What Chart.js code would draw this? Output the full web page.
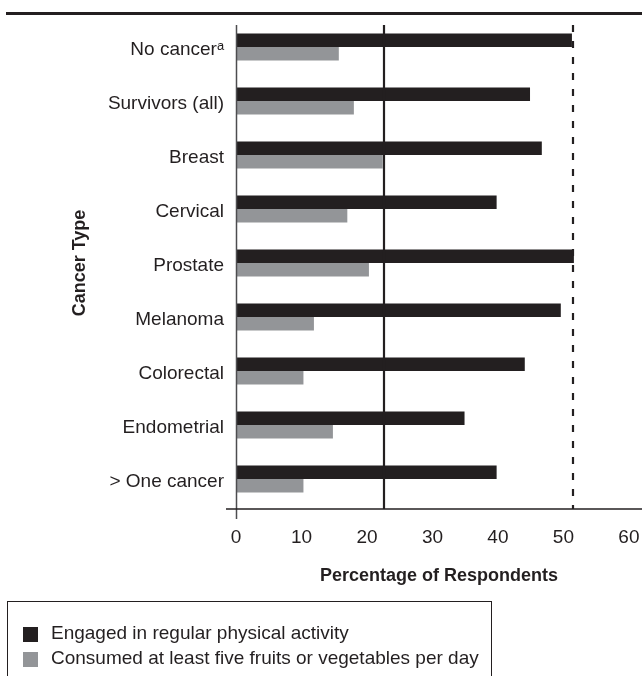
<!DOCTYPE html>
<html>
<head>
<meta charset="utf-8">
<script src="https://cdn.jsdelivr.net/npm/chart.js@4/dist/chart.umd.min.js"></script>
<style>
  html, body { margin: 0; padding: 0; background: #fff; }
  #wrap { position: relative; width: 642px; height: 676px; overflow: hidden; }
  canvas { position: absolute; left: 0; top: 0; }
  #legend {
    position: absolute; left: 7px; top: 601px; width: 485px; height: 100px;
    border: 1.5px solid #231f20; box-sizing: border-box;
    font-family: 'Liberation Sans', Arial, sans-serif;
    font-size: 19px; color: #231f20;
  }
  .item { position: absolute; left: 15px; height: 25px; display: flex; align-items: center; white-space: nowrap; }
  .sw { width: 15px; height: 15px; margin-right: 13px; flex: none; }
  .tx { position: relative; top: -2px; }
</style>
</head>
<body>
<div id="wrap">
  <canvas id="c" width="642" height="676"></canvas>
  <div id="legend"></div>
</div>
<script>
// ---- data ----
const categories = ['No cancer\u1d43', 'Survivors (all)', 'Breast', 'Cervical', 'Prostate', 'Melanoma', 'Colorectal', 'Endometrial', '> One cancer'];
const physicalActivity = [51.3, 44.9, 46.7, 39.8, 51.6, 49.6, 44.1, 34.9, 39.8];
const fruitsVegetables = [15.7, 18.0, 22.4, 17.0, 20.3, 11.9, 10.3, 14.8, 10.3];
const seriesNames = ['Engaged in regular physical activity', 'Consumed at least five fruits or vegetables per day'];
const xTicks = [0, 10, 20, 30, 40, 50, 60];
const refSolid = 22.6;
const refDashed = 51.4;

const FONT = "'Liberation Sans', Arial, sans-serif";
const INK = '#231f20';
const GRAY = '#939598';

const overlay = {
  id: 'overlay',
  afterDatasetsDraw(chart) {
    const { ctx, chartArea } = chart;
    const xs = chart.scales.x;
    ctx.save();
    // top rule
    ctx.fillStyle = INK;
    ctx.fillRect(6, 12, 636, 3);
    const top = chartArea.top + 5;
    const axisY = chartArea.bottom + 3;
    // reference lines
    ctx.strokeStyle = INK;
    ctx.lineWidth = 2.2;
    let x = Math.round(xs.getPixelForValue(refSolid));
    ctx.beginPath(); ctx.moveTo(x, top); ctx.lineTo(x, axisY); ctx.stroke();
    x = Math.round(xs.getPixelForValue(refDashed));
    ctx.setLineDash([7, 9]);
    ctx.beginPath(); ctx.moveTo(x, top); ctx.lineTo(x, axisY); ctx.stroke();
    ctx.setLineDash([]);
    // y axis
    const x0 = Math.round(xs.getPixelForValue(0)) + 0.5;
    ctx.strokeStyle = '#4d4d4f';
    ctx.lineWidth = 1.5;
    ctx.beginPath(); ctx.moveTo(x0, top); ctx.lineTo(x0, axisY + 10); ctx.stroke();
    // x axis
    ctx.strokeStyle = INK;
    ctx.lineWidth = 1.3;
    ctx.beginPath(); ctx.moveTo(226, axisY); ctx.lineTo(642, axisY); ctx.stroke();
    ctx.restore();
  }
};

const chart = new Chart(document.getElementById('c'), {
  type: 'bar',
  data: {
    labels: categories,
    datasets: [
      { label: seriesNames[0], data: physicalActivity, backgroundColor: INK },
      { label: seriesNames[1], data: fruitsVegetables, backgroundColor: GRAY }
    ]
  },
  options: {
    indexAxis: 'y',
    responsive: false,
    animation: false,
    devicePixelRatio: 1,
    datasets: { bar: { categoryPercentage: 0.5, barPercentage: 1.0, borderWidth: 0 } },
    layout: { padding: { top: 20, right: 0, left: 0, bottom: 0 } },
    plugins: { legend: { display: false }, tooltip: { enabled: false } },
    scales: {
      x: {
        type: 'linear', min: 0, max: 62,
        grid: { display: false, drawTicks: false },
        border: { display: false },
        afterBuildTicks: (s) => { s.ticks = xTicks.map(v => ({ value: v })); },
        afterFit: (s) => { s.height = 170; s.paddingLeft = 0; s.paddingRight = 0; },
        ticks: { color: INK, font: { family: FONT, size: 19 }, padding: 20, maxRotation: 0 },
        title: { display: true, text: 'Percentage of Respondents', color: INK,
                 font: { family: FONT, size: 18, weight: 'bold' }, padding: { top: 0, bottom: 89 } }
      },
      y: {
        grid: { display: false, drawTicks: false },
        border: { display: false },
        afterFit: (s) => { s.width = 236; s.paddingTop = 0; s.paddingBottom = 0; },
        ticks: { color: INK, font: { family: FONT, size: 19 }, padding: 12, labelOffset: 3 },
        title: { display: true, text: 'Cancer Type', color: INK,
                 font: { family: FONT, size: 18, weight: 'bold' }, padding: { top: 69, bottom: 0 } }
      }
    }
  },
  plugins: [overlay]
});

// HTML legend built from the chart's datasets
const lg = document.getElementById('legend');
chart.data.datasets.forEach((ds, i) => {
  const it = document.createElement('div');
  it.className = 'item';
  it.style.top = (20 + i * 25) + 'px';
  const sw = document.createElement('span');
  sw.className = 'sw';
  sw.style.background = ds.backgroundColor;
  const tx = document.createElement('span');
  tx.className = 'tx';
  tx.textContent = ds.label;
  it.appendChild(sw); it.appendChild(tx);
  lg.appendChild(it);
});
</script>
</body>
</html>
